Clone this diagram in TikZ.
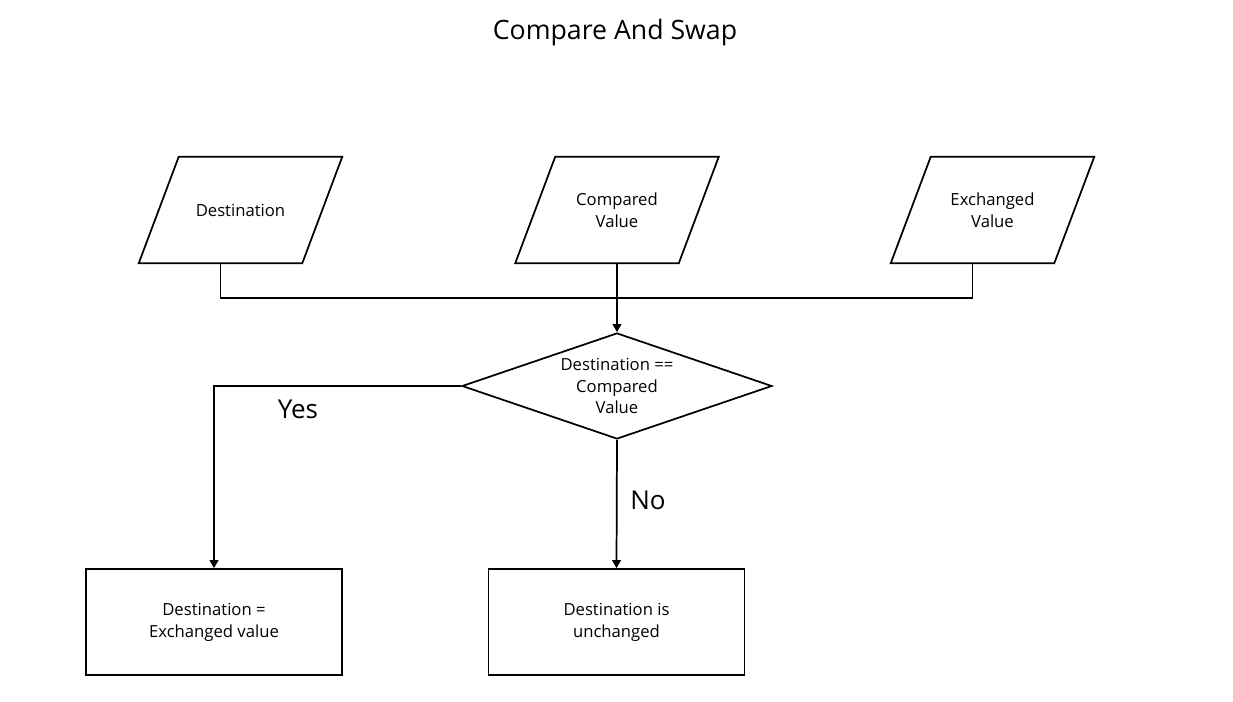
\documentclass[tikz,border=0pt]{standalone}
\usepackage{fontspec}
\setmainfont{Open Sans}
\usetikzlibrary{shapes.geometric,arrows.meta,calc}
\tikzset{
  io/.style={rectangle, minimum width=122.25pt, minimum height=79.5pt, align=center, font=\fontsize{12.5}{16.5}\selectfont},
  decide/.style={draw, line width=1.3pt, diamond, aspect=2.92, minimum width=232.5pt, minimum height=79.5pt,
    inner sep=0pt, align=center, font=\fontsize{12.5}{16.2}\selectfont},
  result/.style={draw, line width=1.3pt, rectangle, minimum width=192pt, minimum height=79.5pt,
    align=center, font=\fontsize{12.5}{16.5}\selectfont},
  link/.style={line width=1.3pt},
  flow/.style={line width=1.3pt, -{Triangle[length=6pt,width=6.5pt]}},
  tag/.style={font=\fontsize{19.5}{22}\selectfont}
}
% slanted outline round an io node: top shifted right, bottom shifted left
\newcommand\slantbox[1]{%
  \draw[link] ($(#1.south west)+(-20,0)$) -- ($(#1.south east)+(-20,0)$)
    -- ($(#1.north east)+(20,0)$) -- ($(#1.north west)+(20,0)$) -- cycle;}
\begin{document}
\begin{tikzpicture}[x=0.75pt, y=-0.75pt]
      \useasboundingbox (0,0) rectangle (1233,701);

      \node[font=\fontsize{20}{24}\selectfont] (title) at (615,33) {Compare And Swap};

      \node[io] (dst) at (240.5,210) {Destination};
      \node[io] (cmp) at (617,210) {Compared\\Value};
      \node[io] (xch) at (992.5,210) {Exchanged\\Value};
      \slantbox{dst}
      \slantbox{cmp}
      \slantbox{xch}

      \node[decide] (cond) at (617,386) {Destination ==\\Compared\\Value};

      \node[result] (setx) at (214,622) {Destination =\\Exchanged value};
      \node[result] (keep) at (616.5,622) {Destination is\\unchanged};

      \coordinate (bus) at (617,298);
      \draw[link] ($(dst.south)+(-20,0)$) |- (bus) -| ($(xch.south)+(-20,0)$);
      \draw[flow] (cmp.south) -- (cond.north);

      \draw[flow] (cond.west) -| (setx.north);
      \draw[flow] (cond.south) -- (keep.north);

      \node[tag] (yes) at (298,409) {Yes};
      \node[tag] (no) at (648,500) {No};
    \end{tikzpicture}
\end{document}
